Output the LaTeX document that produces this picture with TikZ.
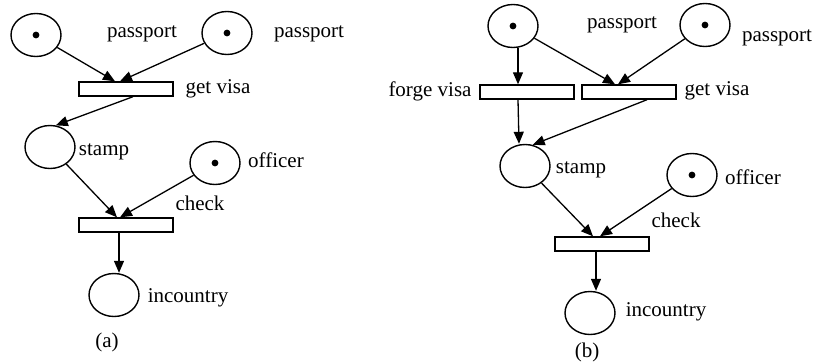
\documentclass[tikz,border=0pt]{standalone}
\usepackage{fontspec}
\setmainfont{Liberation Serif}
\usepackage{tikz}
\usetikzlibrary{shapes.geometric, arrows.meta, positioning}

\begin{document}
\begin{tikzpicture}[x=1pt, y=-1pt,
            place/.style     ={ellipse, draw, line width=1.4pt, minimum width=50pt,
                               minimum height=43pt, inner sep=0pt},
            marked/.style    ={path picture={\fill (path picture bounding box.center) circle (3.4pt);}},
            transition/.style={rectangle, draw, line width=1.4pt, minimum width=94pt,
                               minimum height=14pt, inner sep=0pt},
            lbl/.style       ={inner sep=0pt, font=\fontsize{21}{24}\selectfont},
            arc/.style       ={-{Triangle[length=12pt, width=10pt]}, line width=1.3pt}
        ]
            \useasboundingbox (0,0) rectangle (818,362);

            % --- Net (a) ---
            \node[place, marked] (pass1a)  at (36,35)   {};
            \node[place, marked] (pass2a)  at (227,33)  {};
            \node[transition]    (getvisa) at (126,89)  {};
            \node[place]         (stampa)  at (50,147)  {};
            \node[place, marked] (officea) at (215,163) {};
            \node[transition]    (checka)  at (126,225) {};
            \node[place]         (incntra) at (114,295) {};

            \node[lbl] (lpass1a) at (142,34)  {passport};
            \node[lbl] (lpass2a) at (309,34)  {passport};
            \node[lbl] (lgetva)  at (218,89)  {get visa};
            \node[lbl] (lstampa) at (104,152) {stamp};
            \node[lbl] (loffia)  at (276,160) {officer};
            \node[lbl] (lchecka) at (200,203) {check};
            \node[lbl] (lincna)  at (188,298) {incountry};
            \node[lbl] (capa)    at (107,342) {(a)};

            \draw[arc] (pass1a) -- ([xshift=-11pt]getvisa.north);
            \draw[arc] (pass2a) -- ([xshift=-6pt]getvisa.north);
            \draw[arc] ([xshift=7pt]getvisa.south) -- (stampa.75);
            \draw[arc] (stampa) -- ([xshift=-9pt]checka.north);
            \draw[arc] (officea) -- ([xshift=-6pt]checka.north);
            \draw[arc] ([xshift=-7pt]checka.south) -- ([xshift=5pt]incntra.north);

            % --- Net (b) ---
            \node[place, marked] (pass1b)  at (513,26)  {};
            \node[place, marked] (pass2b)  at (705,25)  {};
            \node[transition]    (forge)   at (527,92)  {};
            \node[transition]    (getvisb) at (629,92)  {};
            \node[place]         (stampb)  at (525,166) {};
            \node[place, marked] (officeb) at (692,175) {};
            \node[transition]    (checkb)  at (602,244) {};
            \node[place]         (incntrb) at (590,313) {};

            \node[lbl] (lpass1b) at (622,25)  {passport};
            \node[lbl] (lpass2b) at (777,38)  {passport};
            \node[lbl] (lforge)  at (430,91)  {forge visa};
            \node[lbl] (lgetvb)  at (717,91)  {get visa};
            \node[lbl] (lstampb) at (581,170) {stamp};
            \node[lbl] (loffib)  at (753,177) {officer};
            \node[lbl] (lcheckb) at (676,220) {check};
            \node[lbl] (lincnb)  at (666,312) {incountry};
            \node[lbl] (capb)    at (587,352) {(b)};

            \draw[arc] ([xshift=5pt]pass1b.south) -- ([xshift=-9pt]forge.north);
            \draw[arc] (pass1b) -- ([xshift=-14pt]getvisb.north);
            \draw[arc] (pass2b) -- ([xshift=-11pt]getvisb.north);
            \draw[arc] ([xshift=-9pt]forge.south) -- ([xshift=-6pt]stampb.north);
            \draw[arc] ([xshift=18pt]getvisb.south) -- (stampb.70);
            \draw[arc] (stampb) -- ([xshift=-9pt]checkb.north);
            \draw[arc] (officeb) -- ([xshift=-2pt]checkb.north);
            \draw[arc] ([xshift=-6pt]checkb.south) -- ([xshift=6pt]incntrb.north);

        \end{tikzpicture}
\end{document}
